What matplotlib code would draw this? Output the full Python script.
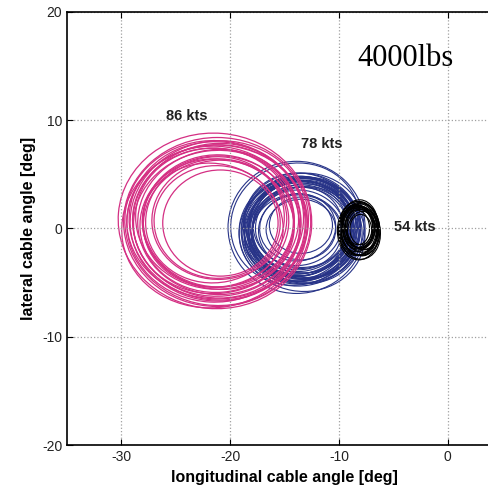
import matplotlib.pyplot as plt
from matplotlib.patches import Ellipse

# Loops: centre x, centre y, width, height, tilt (deg)
pink_cx = [-21.4, -21.2, -21.3, -21.0, -21.5, -21.1, -21.3, -21.0, -21.4, -21.2, -21.1, -21.3,
           -21.6, -21.0, -21.2, -20.9, -21.5, -21.2, -21.3, -21.1, -21.4, -21.2]
pink_cy = [0.7, 0.6, 0.5, 0.7, 0.4, 0.8, 0.5, 0.6, 0.9, 0.4, 0.7, 0.5,
           0.3, 0.8, 0.6, 0.5, 0.2, 0.7, 0.6, 0.4, 0.8, 0.6]
pink_w = [17.8, 17.2, 16.8, 16.4, 16.0, 15.7, 15.4, 15.0, 14.6, 14.2, 13.8, 13.4,
          13.0, 12.4, 11.6, 10.6, 17.0, 16.2, 15.2, 14.0, 12.8, 16.6]
pink_h = [16.2, 15.6, 15.2, 14.8, 14.4, 14.1, 13.8, 13.4, 13.0, 12.6, 12.2, 11.8,
          11.4, 11.0, 10.4, 9.8, 15.0, 14.6, 13.2, 12.0, 11.6, 14.2]
pink_a = [-5, 0, -8, 4, -3, 6, -10, 2, -6, 5, -2, 8, -12, 3, -4, 0, 10, -7, 7, -9, 12, -1]

blue_cx = [-13.9, -13.6, -13.4, -13.7, -13.5, -13.2, -13.8, -13.6, -13.3, -13.5, -13.7, -13.4,
           -13.6, -13.1, -13.9, -13.5, -13.3, -13.6, -13.8, -13.4, -13.5, -13.2, -13.7, -13.6,
           -14.0, -13.4, -13.8, -13.5, -13.3, -13.6, -13.7, -13.2, -13.5, -13.8]
blue_cy = [0.1, -0.3, 0.2, -0.1, -0.4, 0.0, 0.3, -0.2, -0.5, 0.1, -0.3, 0.4,
           -0.1, -0.2, 0.0, 0.2, -0.4, 0.1, -0.6, 0.3, -0.2, 0.0, 0.2, -0.3,
           0.4, -0.5, 0.1, -0.1, -0.3, 0.2, -0.4, 0.0, 0.3, -0.2]
blue_w = [12.6, 11.2, 10.8, 10.6, 10.4, 10.2, 10.0, 9.8, 9.6, 9.4, 9.2, 9.0,
          10.9, 10.5, 10.1, 9.7, 9.3, 8.8, 8.4, 10.7, 9.9, 9.5, 8.0, 7.6,
          12.0, 11.6, 7.0, 6.4, 10.3, 9.1, 8.6, 11.0, 5.8, 10.0]
blue_h = [12.2, 10.0, 9.8, 9.6, 9.4, 9.2, 9.0, 8.8, 8.6, 8.4, 8.2, 8.0,
          9.4, 9.7, 8.9, 8.7, 8.5, 7.8, 7.6, 9.5, 9.1, 8.2, 7.2, 6.8,
          11.2, 10.6, 6.2, 5.6, 9.3, 8.3, 7.9, 10.2, 5.2, 9.0]
blue_a = [0, 10, -8, 5, 15, -5, 12, 0, 20, -10, 8, 3,
          25, -15, 6, 18, -3, 10, 0, -20, 30, 5, 14, -6,
          20, -10, 8, 0, -12, 16, -4, 9, 0, 22]

black_cx = [-8.2, -8.1, -8.3, -8.0, -8.2, -8.1, -8.3, -7.9, -8.2, -8.1, -8.4, -8.0,
            -8.1, -8.2, -8.0, -8.3, -8.1, -7.9, -8.2, -8.0]
black_cy = [-0.2, 0.0, -0.1, 0.1, -0.3, 0.2, 0.0, -0.1, 0.1, -0.2, 0.0, 0.0,
            -0.4, 0.2, -0.1, 0.1, -0.2, 0.0, 0.1, -0.1]
black_w = [3.9, 3.7, 3.5, 3.3, 3.2, 3.0, 2.8, 2.7, 3.6, 3.4, 3.1, 2.6,
           3.8, 2.9, 2.4, 2.2, 3.3, 3.0, 2.6, 2.0]
black_h = [5.4, 5.0, 4.8, 4.6, 4.4, 4.2, 4.0, 3.8, 5.1, 4.7, 4.3, 3.6,
           4.9, 4.1, 3.4, 3.2, 4.5, 3.9, 3.7, 2.8]
black_a = [0, 8, -6, 5, 12, -10, 3, 15, -4, 10, 0, -8, 6, 14, -12, 4, -2, 9, -7, 2]

labels = ['86 kts', '78 kts', '54 kts']
label_x = [-24.0, -11.6, -3.0]
label_y = [10.4, 7.8, 0.1]

pink = '#d42f83'
navy = '#283488'

plt.rcParams['font.family'] = ['Liberation Sans', 'DejaVu Sans']
plt.rcParams['axes.unicode_minus'] = False

fig = plt.figure(figsize=(4.89, 4.94), dpi=100)
ax = fig.add_axes([0.137, 0.099, 0.89, 0.877])

def draw_loops(cx, cy, w, h, a, color, lw):
    for i in range(len(cx)):
        e = Ellipse((cx[i], cy[i]), w[i], h[i], angle=a[i], fill=False,
                    edgecolor=color, linewidth=lw)
        ax.add_patch(e)

draw_loops(blue_cx, blue_cy, blue_w, blue_h, blue_a, navy, 0.8)
draw_loops(pink_cx, pink_cy, pink_w, pink_h, pink_a, pink, 0.9)
draw_loops(black_cx, black_cy, black_w, black_h, black_a, 'black', 0.8)

for i in range(len(labels)):
    ax.text(label_x[i], label_y[i], labels[i], fontsize=10.5, fontweight='bold',
            color='#222222', ha='center', va='center')

ax.text(-3.9, 15.7, '4000lbs', fontsize=22, family='Liberation Serif',
        ha='center', va='center')

ax.set_xlim(-35, 5)
ax.set_ylim(-20, 20)
ax.set_xticks([-30, -20, -10, 0])
ax.set_yticks([-20, -10, 0, 10, 20])
ax.grid(True, linestyle=':', color='#a0a0a0', linewidth=0.9)
ax.tick_params(direction='in', top=True, labelsize=10, length=4, labelcolor='#222222')
ax.spines['right'].set_visible(False)
for s in ['left', 'bottom', 'top']:
    ax.spines[s].set_linewidth(1.2)

ax.set_xlabel('longitudinal cable angle [deg]', fontsize=11.5, fontweight='bold')
ax.set_ylabel('lateral cable angle [deg]', fontsize=11.5, fontweight='bold')

plt.savefig('out.png', dpi=100)
